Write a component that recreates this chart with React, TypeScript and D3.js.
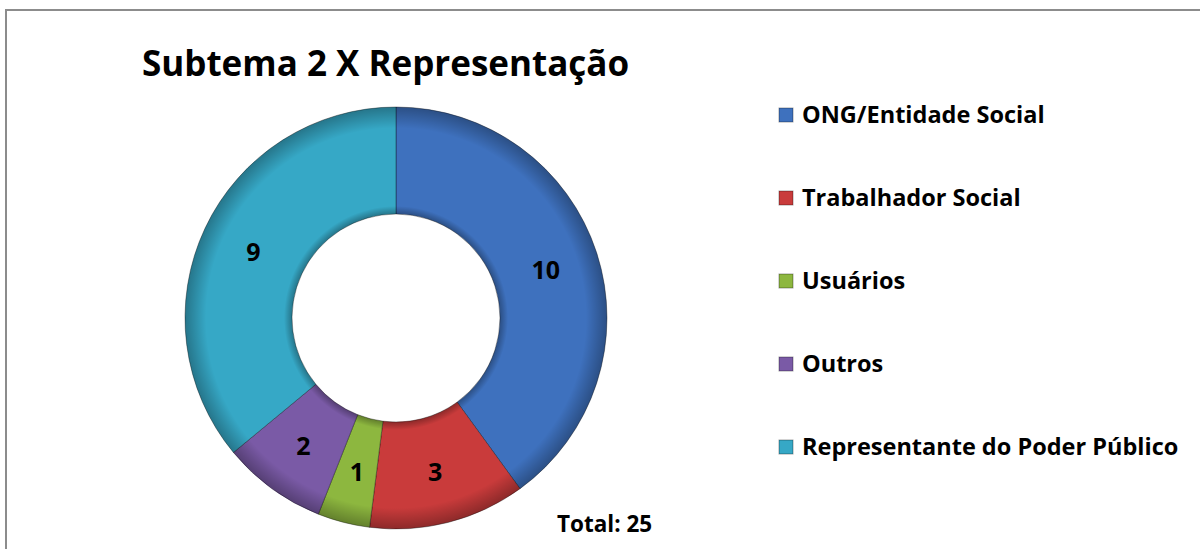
import * as d3 from "d3";

const categories = [
  "ONG/Entidade Social",
  "Trabalhador Social",
  "Usuários",
  "Outros",
  "Representante do Poder Público",
];
const values = [10, 3, 1, 2, 9];
const colors = ["#3E71BE", "#C93B3B", "#8DB73F", "#7A5AA6", "#36A8C6"];
const title = "Subtema 2 X Representação";
const totalLabel = "Total: 25";

const width = 1200;
const height = 549;
const font = "'Open Sans', 'DejaVu Sans', sans-serif";

const App = () => {
  const cx = 396;
  const cy = 318;
  const outerR = 211;
  const innerR = 104;

  const pie = d3
    .pie<number>()
    .sort(null)
    .value((d) => d);
  const arcs = pie(values);

  const arc = d3.arc<d3.PieArcDatum<number>>().innerRadius(innerR).outerRadius(outerR);
  const labelArc = d3
    .arc<d3.PieArcDatum<number>>()
    .innerRadius((innerR + outerR) / 2)
    .outerRadius((innerR + outerR) / 2);
  const ring = d3.arc()({
    innerRadius: innerR,
    outerRadius: outerR,
    startAngle: 0,
    endAngle: Math.PI * 2,
  }) as string;

  // legend rows
  const legendY = d3.scalePoint<string>().domain(categories).range([115, 447]);

  return (
    <svg
      width={width}
      height={height}
      style={{ position: "absolute", left: 0, top: 0, background: "#fff" }}
    >
      <defs>
        <radialGradient id="bevel" gradientUnits="userSpaceOnUse" cx={0} cy={0} r={outerR}>
          <stop offset={innerR / outerR} stopColor="#000" stopOpacity={0.3} />
          <stop offset={(innerR + 8) / outerR} stopColor="#000" stopOpacity={0} />
          <stop offset={0.9} stopColor="#000" stopOpacity={0} />
          <stop offset={1} stopColor="#000" stopOpacity={0.3} />
        </radialGradient>
      </defs>

      <rect x={6} y={10} width={1300} height={700} fill="#fff" stroke="#8c8c8c" strokeWidth={2} />

      <text
        x={142}
        y={76}
        fontFamily={font}
        fontWeight="bold"
        fontSize={35}
        fill="#000"
      >
        {title}
      </text>

      <g transform={`translate(${cx},${cy})`}>
        {arcs.map((a, i) => (
          <path key={i} d={arc(a) as string} fill={colors[i]} stroke="rgba(0,0,0,0.35)" strokeWidth={1} />
        ))}
        <path d={ring} fill="url(#bevel)" pointerEvents="none" />
        {arcs.map((a, i) => {
          const [lx, ly] = labelArc.centroid(a);
          return (
            <text
              key={i}
              x={lx}
              y={ly}
              textAnchor="middle"
              dominantBaseline="central"
              fontFamily={font}
              fontWeight="bold"
              fontSize={25}
              fill="#000"
            >
              {values[i]}
            </text>
          );
        })}
      </g>

      <g>
        {categories.map((c, i) => {
          const y = legendY(c) as number;
          return (
            <g key={c}>
              <rect
                x={779}
                y={y - 7}
                width={14}
                height={14}
                fill={colors[i]}
                stroke="rgba(0,0,0,0.35)"
                strokeWidth={1}
              />
              <text
                x={802}
                y={y + 8}
                fontFamily={font}
                fontWeight="bold"
                fontSize={23.5}
                fill="#000"
              >
                {c}
              </text>
            </g>
          );
        })}
      </g>

      <text x={557} y={532} fontFamily={font} fontWeight="bold" fontSize={22.5} fill="#000">
        {totalLabel}
      </text>
    </svg>
  );
};

export default App;
